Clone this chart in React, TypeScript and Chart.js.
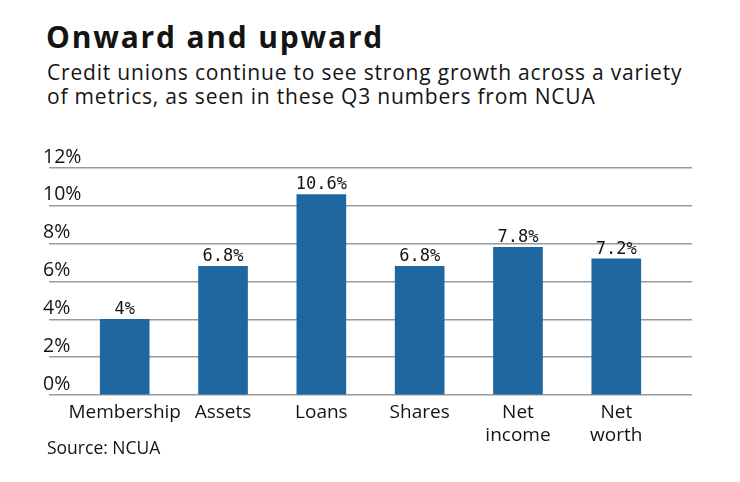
import React, { useEffect, useRef } from "react";
import { Chart, registerables } from "chart.js";

Chart.register(...registerables);

const categories: string[] = ["Membership", "Assets", "Loans", "Shares", "Net income", "Net worth"];
const growth: number[] = [4, 6.8, 10.6, 6.8, 7.8, 7.2];
const growthLabels: string[] = ["4%", "6.8%", "10.6%", "6.8%", "7.8%", "7.2%"];
const yTicks: number[] = [0, 2, 4, 6, 8, 10, 12];

const TITLE = "Onward and upward";
const SUBTITLE_1 = "Credit unions continue to see strong growth across a variety";
const SUBTITLE_2 = "of metrics, as seen in these Q3 numbers from NCUA";
const SOURCE = "Source: NCUA";

const BAR_COLOR = "#1f67a1";
const TEXT_COLOR = "#141414";
const FONT = "'Open Sans', Lato, sans-serif";

const valueLabelPlugin = {
  id: "valueLabels",
  afterDatasetsDraw(chart: any) {
    const ctx = chart.ctx;
    const meta = chart.getDatasetMeta(0);
    ctx.save();
    ctx.font = "17px 'DejaVu Sans Mono', monospace";
    ctx.fillStyle = TEXT_COLOR;
    ctx.textAlign = "center";
    ctx.textBaseline = "alphabetic";
    meta.data.forEach((el: any, i: number) => {
      ctx.fillText(growthLabels[i], el.x, el.y - 5);
    });
    ctx.restore();
  },
};

export default function App() {
  const canvasRef = useRef<HTMLCanvasElement | null>(null);

  useEffect(() => {
    if (!canvasRef.current) return;
    const chart = new Chart(canvasRef.current, {
      type: "bar",
      data: {
        datasets: [
          {
            data: growth.map((v, i) => ({ x: i, y: v })),
            backgroundColor: BAR_COLOR,
            borderWidth: 0,
            barThickness: 49,
          },
        ],
      },
      options: {
        animation: false,
        responsive: false,
        maintainAspectRatio: false,
        devicePixelRatio: 1,
        layout: { padding: { left: 49, right: 48, top: 168, bottom: 0 } },
        plugins: {
          legend: { display: false },
          tooltip: { enabled: false },
          title: { display: false },
        },
        scales: {
          x: {
            type: "linear",
            offset: false,
            min: -0.77,
            max: 5.77,
            grid: { display: false },
            border: { display: false },
            afterFit: (scale: any) => {
              scale.height = 87;
            },
            ticks: {
              stepSize: 1,
              includeBounds: false,
              autoSkip: false,
              maxRotation: 0,
              padding: -2,
              color: TEXT_COLOR,
              font: { family: FONT, size: 19, lineHeight: 1.2 },
              callback: (v: any) => {
                const idx = Number(v);
                if (!Number.isInteger(idx) || idx < 0 || idx >= categories.length) return "";
                const label = categories[idx];
                return label.includes(" ") ? label.split(" ") : label;
              },
            },
          },
          y: {
            type: "linear",
            min: yTicks[0],
            max: yTicks[yTicks.length - 1],
            afterBuildTicks: (scale: any) => {
              scale.ticks = yTicks.map((v) => ({ value: v }));
            },
            grid: { color: "#9a9a9a", lineWidth: 1.5, drawTicks: false },
            border: { display: false },
            ticks: {
              mirror: true,
              padding: -2,
              labelOffset: -11,
              color: TEXT_COLOR,
              font: { family: FONT, size: 19.5 },
              callback: (v: any) => `${v}%`,
            },
          },
        },
      },
      plugins: [valueLabelPlugin],
    });
    return () => chart.destroy();
  }, []);

  return (
    <div style={{ position: "absolute", left: 0, top: 0, width: 740, height: 482, background: "#fff", fontFamily: FONT, color: TEXT_COLOR }}>
      <div style={{ position: "absolute", left: 46, top: 19, fontSize: 30, lineHeight: "36px", fontWeight: 700, letterSpacing: "1.8px", whiteSpace: "nowrap" }}>
        {TITLE}
      </div>
      <div style={{ position: "absolute", left: 47, top: 60, fontSize: 21, lineHeight: "24px", letterSpacing: "0.8px", whiteSpace: "nowrap" }}>
        <div>{SUBTITLE_1}</div>
        <div>{SUBTITLE_2}</div>
      </div>
      <canvas ref={canvasRef} width={740} height={482} style={{ position: "absolute", left: 0, top: 0, width: 740, height: 482 }} />
      <div style={{ position: "absolute", left: 47, top: 437, fontSize: 17.5, lineHeight: "20px", whiteSpace: "nowrap" }}>
        {SOURCE}
      </div>
    </div>
  );
}
